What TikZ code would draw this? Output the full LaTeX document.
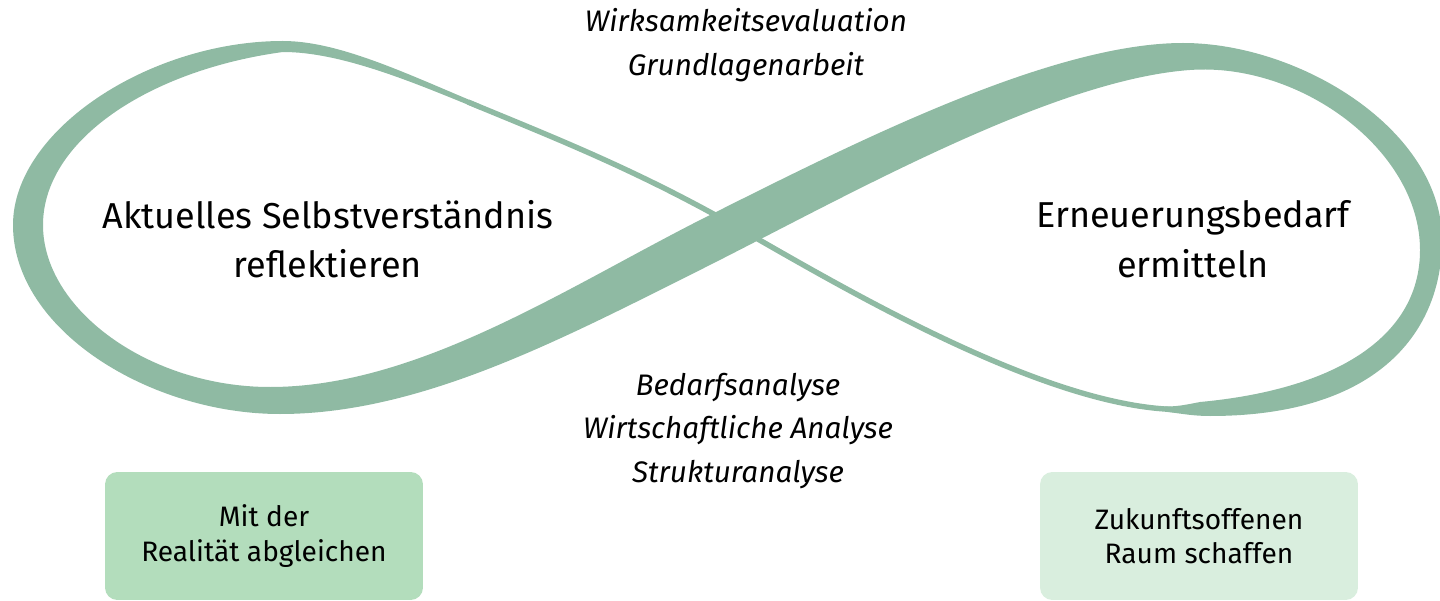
\documentclass[tikz,border=0pt]{standalone}
\usepackage{fontspec}
\setmainfont{Fira Sans}
\definecolor{bandgreen}{HTML}{8FBAA3}
\definecolor{boxgreen}{HTML}{B3DDBC}
\definecolor{boxpale}{HTML}{D9EEDE}
\tikzset{
	phase/.style={align=center,font=\fontsize{20.5}{28.2}\selectfont},
	method/.style={align=center,font=\fontsize{16.9}{25}\selectfont\itshape},
	goalbox/.style={rounded corners=7pt,minimum width=6.36cm,minimum height=2.56cm,align=center,font=\fontsize{16}{19.6}\selectfont}
}
\begin{document}
\begin{tikzpicture}[x=0.02cm,y=-0.02cm]
			\useasboundingbox (0,0) rectangle (1440,601);
			% thick part of the loop
			\fill[bandgreen] (480,104.3) .. controls (410,75.4) and (340,41) .. (283,41)
				.. controls (150,41) and (13,130) .. (13,225)
				.. controls (13,330) and (150,414) .. (280,414)
				.. controls (420,414) and (560,340) .. (700,270)
				.. controls (840,200) and (1050,80) .. (1190,70)
				.. controls (1300,62) and (1420,150) .. (1420,250)
				.. controls (1420,340) and (1330,390) .. (1200,402)
				.. controls (1185,405) and (1175,406.9) .. (1165,406.25) -- (1165,411.75)
				.. controls (1175,412.4) and (1190,416) .. (1210,416)
				.. controls (1380,416) and (1442,330) .. (1442,240)
				.. controls (1442,130) and (1300,43) .. (1183,43)
				.. controls (1050,43) and (850,145) .. (710,215)
				.. controls (570,285) and (420,387) .. (270,387)
				.. controls (150,387) and (43,310) .. (43,225)
				.. controls (43,140) and (150,70) .. (283,52)
				.. controls (340,52) and (410,80.8) .. (480,109.7) -- cycle;
			% thin part through the crossing
			\draw[bandgreen,line width=0.108cm] (468,102) -- (480,107) .. controls (560,140) and (640,172) .. (735,226)
				.. controls (830,280) and (1030,400) .. (1165,409) -- (1178,410);
			\node[phase] (selbst) at (328,239) {Aktuelles Selbstverständnis\\reflektieren};
			\node[phase] (bedarf) at (1193,239) {Erneuerungsbedarf\\ermitteln};
			\node[method] (oben) at (746,45) {Wirksamkeitsevaluation\\Grundlagenarbeit};
			\node[method] (unten) at (738,431) {Bedarfsanalyse\\Wirtschaftliche Analyse\\Strukturanalyse};
			\node[goalbox,fill=boxgreen] (realitaet) at (264,536) {Mit der\\Realität abgleichen};
			\node[goalbox,fill=boxpale] (raum) at (1199,536) {Zukunftsoffenen\\Raum schaffen};
\end{tikzpicture}
\end{document}
